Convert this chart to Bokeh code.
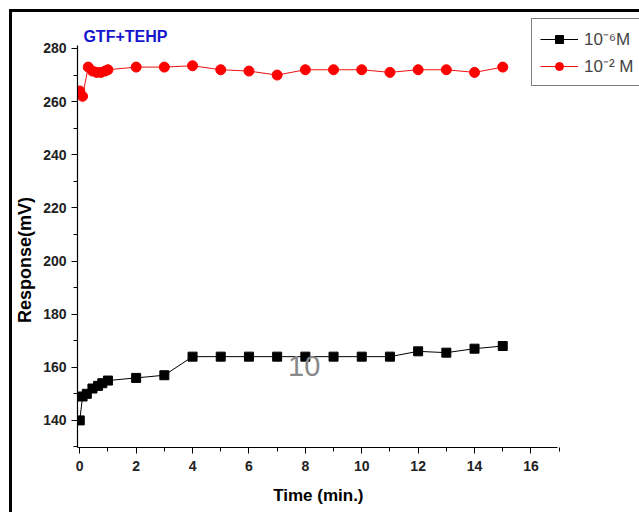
from bokeh.plotting import figure
from bokeh.layouts import column
from bokeh.models import Legend, LegendItem, Label, FixedTicker, ColumnDataSource
from bokeh.embed import file_html
from bokeh.resources import INLINE

# data
time_black = [0, 0.1, 0.25, 0.45, 0.65, 0.8, 1, 2, 3, 4, 5, 6, 7, 8, 9, 10, 11, 12, 13, 14, 15]
resp_black = [140, 149, 150, 152, 153, 154, 155, 156, 157, 164, 164, 164, 164, 164, 164, 164, 164, 166, 165.5, 167, 168]
time_red = [0, 0.1, 0.3, 0.45, 0.6, 0.75, 0.9, 1, 2, 3, 4, 5, 6, 7, 8, 9, 10, 11, 12, 13, 14, 15]
resp_red = [264, 262, 273, 271.5, 271, 271, 271.5, 272, 273, 273, 273.5, 272, 271.5, 270, 272, 272, 272, 271, 272, 272, 271, 273]
x_ticks = [0, 2, 4, 6, 8, 10, 12, 14, 16]
y_ticks = [140, 160, 180, 200, 220, 240, 260, 280]
legend_labels = ["10\u207b\u2076M", "10\u207b\u00b2 M"]
title_text = "GTF+TEHP"
x_label = "Time (min.)"
y_label = "Response(mV)"
stray_text = "10"

FONT = "Liberation Sans Narrow, Liberation Sans, Arial"
NBSP = "\u00a0"

X_AXIS = (-0.08, 16.95)
Y_AXIS = (129.8, 281.1)

p = figure(width=627, height=500, output_backend="svg", toolbar_location=None,
           x_range=(-0.08, 19.85), y_range=(129.8, 293.55),
           min_border_left=65, min_border_right=0, min_border_top=0, min_border_bottom=65)
p.outline_line_color = None
p.grid.grid_line_color = None
p.background_fill_color = "white"
p.border_fill_color = "white"

for ax in (p.xaxis, p.yaxis):
    ax.axis_line_color = "black"
    ax.axis_line_width = 1.2
    ax.major_tick_line_color = "black"
    ax.minor_tick_line_color = "black"
    ax.major_tick_in = 0
    ax.major_tick_out = 6
    ax.minor_tick_in = 0
    ax.minor_tick_out = 4
    ax.major_label_text_font = FONT
    ax.major_label_text_font_style = "bold"
    ax.major_label_text_font_size = "14px"
    ax.major_label_text_color = "#222222"
    ax.axis_label_text_font = FONT
    ax.axis_label_text_font_style = "bold"
    ax.axis_label_text_color = "black"

p.xaxis.axis_label_text_font_size = "17px"
p.yaxis.axis_label_text_font_size = "18px"
p.xaxis.bounds = X_AXIS
p.yaxis.bounds = Y_AXIS
p.xaxis.ticker = FixedTicker(ticks=x_ticks, minor_ticks=[t + 1 for t in x_ticks])
p.yaxis.ticker = FixedTicker(ticks=y_ticks, minor_ticks=[t + 10 for t in y_ticks[:-1]] + [130])
# non-breaking padding shifts the visible label to the centre of the drawn axis
p.xaxis.axis_label = x_label + NBSP * 17
p.yaxis.axis_label = y_label + NBSP * 12
p.xaxis.major_label_standoff = 7
p.xaxis.axis_label_standoff = 12
p.yaxis.axis_label_standoff = 5

src_b = ColumnDataSource(dict(x=time_black, y=resp_black))
src_r = ColumnDataSource(dict(x=time_red, y=resp_red))

lb = p.line("x", "y", source=src_b, line_color="black", line_width=1)
mb = p.scatter("x", "y", source=src_b, marker="square", size=9, fill_color="black", line_color="black")
lr = p.line("x", "y", source=src_r, line_color="#ee1111", line_width=1)
mr = p.scatter("x", "y", source=src_r, marker="circle", size=10, fill_color="#ff0000", line_color="#ff0000")

legend = Legend(items=[LegendItem(label=legend_labels[0], renderers=[lb, mb]),
                       LegendItem(label=legend_labels[1], renderers=[lr, mr])],
                location=(454, 361), orientation="vertical",
                border_line_color="black", border_line_width=1.2,
                label_text_font="Liberation Sans", label_text_font_size="17px",
                glyph_width=38, glyph_height=20, spacing=4, padding=8, margin=0,
                label_standoff=6, background_fill_alpha=1)
p.add_layout(legend, "center")

p.add_layout(Label(x=0.13, y=281.2, text=title_text, text_color="#1515cc",
                   text_font=FONT, text_font_style="bold", text_font_size="16px"))
p.add_layout(Label(x=7.96, y=160.3, text=stray_text, text_color="#888888",
                   text_font="Liberation Sans", text_font_size="29px",
                   text_align="center", text_baseline="middle"))

layout = column(p, margin=(9, 0, 0, 9),
                styles={"border-left": "3px solid black", "border-top": "3px solid black"})
open("out.html", "w").write(file_html(layout, INLINE))
